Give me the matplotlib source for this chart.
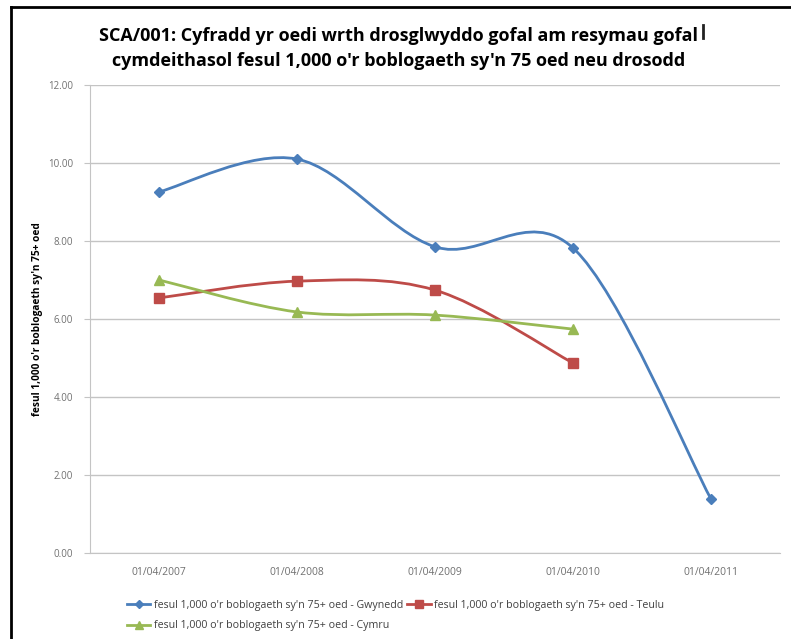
"""
SCA/001 - delayed transfers of care per 1,000 population aged 75+
"""

import matplotlib
matplotlib.use('Agg')
import matplotlib.pyplot as plt
from matplotlib.path import Path
from matplotlib.patches import PathPatch
from matplotlib.lines import Line2D


dates = ['01/04/2007', '01/04/2008', '01/04/2009', '01/04/2010', '01/04/2011']
gwynedd = [9.26, 10.10, 7.85, 7.82, 1.38]
teulu = [6.54, 6.97, 6.74, 4.87]
cymru = [7.00, 6.18, 6.10, 5.74]

labels = [
	"fesul 1,000 o'r boblogaeth sy'n 75+ oed - Gwynedd",
	"fesul 1,000 o'r boblogaeth sy'n 75+ oed - Teulu",
	"fesul 1,000 o'r boblogaeth sy'n 75+ oed - Cymru",
]
title = ("SCA/001: Cyfradd yr oedi wrth drosglwyddo gofal am resymau gofal\n"
         "cymdeithasol fesul 1,000 o'r boblogaeth sy'n 75 oed neu drosodd")
ylabel = "fesul 1,000 o'r boblogaeth sy'n 75+ oed"


def smooth_path(xs, ys):
	"""Excel style smoothed line: bezier segments through every point."""
	pts = list(zip(xs, ys))
	verts = [pts[0]]
	codes = [Path.MOVETO]
	n = len(pts)
	for i in range(n - 1):
		p0 = pts[i - 1] if i > 0 else pts[i]
		p1 = pts[i]
		p2 = pts[i + 1]
		p3 = pts[i + 2] if i + 2 < n else pts[i + 1]
		c1 = (p1[0] + (p2[0] - p0[0]) / 6.0, p1[1] + (p2[1] - p0[1]) / 6.0)
		c2 = (p2[0] - (p3[0] - p1[0]) / 6.0, p2[1] - (p3[1] - p1[1]) / 6.0)
		verts += [c1, c2, p2]
		codes += [Path.CURVE4] * 3
	return Path(verts, codes)


def main():
	plt.rcParams['font.family'] = ['Open Sans', 'DejaVu Sans']

	fig = plt.figure(figsize=(7.91, 6.39), dpi=100)
	ax = fig.add_axes([0.1138, 0.1346, 0.8724, 0.7324])

	series = [
		(gwynedd, '#4a7ebb', 'D', 5),
		(teulu, '#be4b48', 's', 7),
		(cymru, '#98b954', '^', 7),
	]
	handles = []
	for (vals, color, marker, msize), label in zip(series, labels):
		xs = list(range(len(vals)))
		ax.add_patch(PathPatch(smooth_path(xs, vals), facecolor='none',
		                       edgecolor=color, linewidth=2, zorder=3))
		ax.plot(xs, vals, linestyle='none', marker=marker, markersize=msize,
		        color=color, zorder=4)
		handles.append(Line2D([], [], color=color, linewidth=2, marker=marker,
		                      markersize=msize - 1, label=label))

	ax.set_xlim(-0.5, len(dates) - 0.5)
	ax.set_ylim(0, 12)
	ax.set_yticks([0, 2, 4, 6, 8, 10, 12])
	ax.set_yticklabels(['%.2f' % v for v in [0, 2, 4, 6, 8, 10, 12]])
	ax.set_xticks(range(len(dates)))
	ax.set_xticklabels(dates)

	ax.grid(axis='y', color='#c4c4c4', linewidth=1)
	ax.set_axisbelow(True)
	for side in ['top', 'right']:
		ax.spines[side].set_visible(False)
	for side in ['left', 'bottom']:
		ax.spines[side].set_color('#c4c4c4')
	ax.tick_params(axis='y', colors='#c4c4c4', labelcolor='#707070',
	               labelsize=7, length=4, pad=8)
	ax.tick_params(axis='x', length=0, labelcolor='#707070', labelsize=7.5,
	               pad=10)

	ax.set_ylabel(ylabel, fontsize=7.3, fontweight='bold')
	ax.yaxis.set_label_coords(-0.068, 0.5)

	fig.text(0.504, 0.924, title, ha='center', va='center', fontsize=13,
	         fontweight='bold', linespacing=1.5)

	# legend filled row by row
	order = [handles[0], handles[2], handles[1]]
	fig.legend(handles=order, loc='upper left', bbox_to_anchor=(0.155, 0.068),
	           ncol=2, frameon=False, fontsize=7.7, handlelength=2.2,
	           handletextpad=0.3, columnspacing=0.4, labelspacing=0.9,
	           labelcolor='#404040', borderaxespad=0)

	# black frame left over from the screenshot
	fig.add_artist(Line2D([11 / 791, 1], [1 - 7 / 639, 1 - 7 / 639],
	                      color='black', linewidth=2, transform=fig.transFigure))
	fig.add_artist(Line2D([11 / 791, 11 / 791], [0, 1 - 7 / 639],
	                      color='black', linewidth=2, transform=fig.transFigure))
	fig.add_artist(Line2D([703 / 791, 703 / 791], [1 - 25 / 639, 1 - 38 / 639],
	                      color='#222222', linewidth=2, transform=fig.transFigure))

	fig.savefig('out.png', dpi=100)


if __name__ == '__main__':
	main()
